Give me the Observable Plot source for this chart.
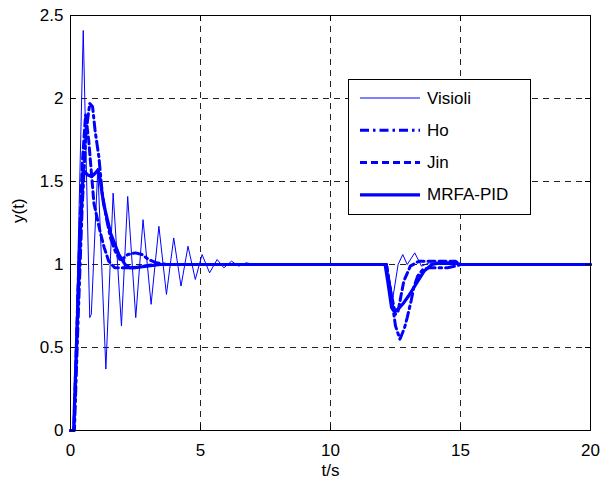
<!DOCTYPE html>
<html>
<head>
<meta charset="utf-8">
<script src="https://cdn.jsdelivr.net/npm/d3@7"></script>
<script src="https://cdn.jsdelivr.net/npm/@observablehq/plot@0.6"></script>
<style>
  html, body { margin: 0; padding: 0; background: white; }
  #wrap { position: relative; width: 601px; height: 491px; font-family: "Liberation Sans", Arial, sans-serif; }
  #legend { position: absolute; left: 348px; top: 79px; }
</style>
</head>
<body>
<div id="wrap"></div>
<script>
// ---- data ----
const seriesNames = ["Visioli", "Ho", "Jin", "MRFA-PID"];

const visioliT = [0, 0.13, 0.49, 0.74, 0.8, 1.05, 1.36, 1.64, 1.96, 2.2, 2.51, 2.79, 3.1, 3.4, 3.69, 3.97, 4.25, 4.52, 4.8, 5.06, 5.35, 5.64, 5.9, 6.19, 6.47, 6.75, 7.1, 12.15, 12.4, 12.6, 12.78, 12.95, 13.24, 13.5, 13.8, 14.2, 20];
const visioliY = [0, 0, 2.41, 0.68, 0.7, 1.58, 0.37, 1.43, 0.63, 1.41, 0.68, 1.27, 0.76, 1.23, 0.82, 1.16, 0.87, 1.11, 0.91, 1.06, 0.95, 1.03, 0.98, 1.02, 0.99, 1.01, 1.0, 1.0, 0.8, 1.0, 1.06, 1.0, 1.07, 0.99, 1.01, 1.0, 1.0];

const hoT = [0, 0.15, 0.3, 0.45, 0.6, 0.74, 0.85, 0.95, 1.09, 1.22, 1.38, 1.54, 1.72, 1.9, 2.05, 2.2, 2.5, 2.75, 3.0, 3.3, 3.7, 12.15, 12.3, 12.5, 12.67, 12.85, 12.95, 13.1, 13.2, 13.35, 13.55, 13.8, 14.5, 14.8, 15.0, 20];
const hoY = [0, 0, 0.7, 1.35, 1.8, 1.97, 1.95, 1.8, 1.65, 1.43, 1.28, 1.16, 1.08, 1.03, 1.04, 1.06, 1.07, 1.06, 1.03, 1.01, 1.0, 1.0, 0.85, 0.63, 0.55, 0.62, 0.68, 0.78, 0.86, 0.93, 0.97, 0.98, 0.98, 0.99, 1.0, 1.0];

const jinT = [0, 0.13, 0.3, 0.45, 0.58, 0.7, 0.9, 1.15, 1.3, 1.47, 1.7, 2.5, 2.8, 3.2, 12.15, 12.3, 12.5, 12.6, 12.82, 13.07, 13.4, 14.8, 15.0, 20];
const jinY = [0, 0, 0.9, 1.6, 1.9, 1.75, 1.37, 1.19, 1.1, 1.02, 0.98, 0.98, 0.99, 1.0, 1.0, 0.85, 0.7, 0.72, 0.9, 0.99, 1.02, 1.02, 1.0, 1.0];

const mrfaT = [0, 0.12, 0.25, 0.38, 0.49, 0.65, 0.81, 0.95, 1.06, 1.15, 1.28, 1.54, 1.86, 2.1, 2.3, 2.7, 3.45, 12.1, 12.2, 12.35, 12.44, 12.6, 12.82, 13.0, 13.2, 13.4, 13.6, 13.9, 14.2, 14.8, 15.0, 20];
const mrfaY = [0, 0, 0.6, 1.2, 1.57, 1.54, 1.53, 1.55, 1.57, 1.5, 1.36, 1.19, 1.06, 1.0, 0.98, 0.985, 1.0, 1.0, 0.9, 0.74, 0.72, 0.73, 0.77, 0.81, 0.86, 0.91, 0.96, 1.0, 1.01, 1.01, 1.0, 1.0];

const xTicks = [0, 5, 10, 15, 20];
const yTicks = [0, 0.5, 1, 1.5, 2, 2.5];
const xLabel = "t/s";
const yLabel = "y(t)";

// ---- build table ----
function rows(name, T, Y) { return T.map((t, i) => ({series: name, t, y: Y[i]})); }
const data = [
  ...rows("Visioli", visioliT, visioliY),
  ...rows("Ho", hoT, hoY),
  ...rows("Jin", jinT, jinY),
  ...rows("MRFA-PID", mrfaT, mrfaY)
];

const styles = {
  "Visioli": {strokeWidth: 1, dash: null},
  "Ho": {strokeWidth: 3, dash: "9,4,2.5,4"},
  "Jin": {strokeWidth: 3, dash: "7,4"},
  "MRFA-PID": {strokeWidth: 3.2, dash: null}
};

const lineMarks = seriesNames.map(name => Plot.line(data.filter(d => d.series === name), {
  x: "t", y: "y", stroke: "#0000ff",
  strokeWidth: styles[name].strokeWidth,
  strokeDasharray: styles[name].dash,
  strokeLinejoin: "round"
}));

const gridStyle = {stroke: "#222", strokeOpacity: 1, strokeWidth: 1, strokeDasharray: "6,5"};

const chart = Plot.plot({
  width: 601, height: 491,
  marginLeft: 70, marginRight: 11, marginTop: 15, marginBottom: 61,
  x: {domain: [0, 20], label: null},
  y: {domain: [0, 2.5], label: null},
  style: {fontFamily: "'Liberation Sans', Arial, sans-serif", fontSize: "17px", color: "black", background: "white", overflow: "visible"},
  marks: [
    Plot.gridX(xTicks.slice(1, -1), gridStyle),
    Plot.gridY(yTicks.slice(1, -1), gridStyle),
    ...lineMarks,
    Plot.frame({stroke: "black", strokeWidth: 1}),
    Plot.axisX(xTicks, {anchor: "bottom", tickSize: 0, tickPadding: 13, fontSize: 17, tickFormat: d => String(d)}),
    Plot.axisY(yTicks, {anchor: "left", tickSize: 0, tickPadding: 7, fontSize: 17, tickFormat: d => String(d)}),
    Plot.tickX(xTicks, {x: d => d, frameAnchor: "bottom", insetTop: 409, stroke: "black"}),
    Plot.tickX(xTicks, {x: d => d, insetBottom: 409, stroke: "black"}),
    Plot.tickY(yTicks, {y: d => d, insetRight: 515, stroke: "black"}),
    Plot.tickY(yTicks, {y: d => d, insetLeft: 515, stroke: "black"}),
    Plot.text([xLabel], {text: d => d, frameAnchor: "bottom", dy: 45, fontSize: 17}),
    Plot.text([yLabel], {text: d => d, frameAnchor: "left", dx: -52, rotate: -90, fontSize: 17})
  ]
});

const wrap = document.getElementById("wrap");
wrap.appendChild(chart);

// ---- legend (HTML overlay) ----
const ns = "http://www.w3.org/2000/svg";
const lg = document.createElementNS(ns, "svg");
lg.setAttribute("id", "legend");
lg.setAttribute("width", 183);
lg.setAttribute("height", 136);
const box = document.createElementNS(ns, "rect");
box.setAttribute("x", 0.5); box.setAttribute("y", 0.5);
box.setAttribute("width", 182); box.setAttribute("height", 135);
box.setAttribute("fill", "white"); box.setAttribute("stroke", "black");
lg.appendChild(box);
seriesNames.forEach((name, i) => {
  const cy = 19 + i * 32.3;
  const ln = document.createElementNS(ns, "line");
  ln.setAttribute("x1", 12); ln.setAttribute("x2", 72);
  ln.setAttribute("y1", cy); ln.setAttribute("y2", cy);
  ln.setAttribute("stroke", "#0000ff");
  ln.setAttribute("stroke-width", styles[name].strokeWidth);
  if (styles[name].dash) ln.setAttribute("stroke-dasharray", styles[name].dash);
  lg.appendChild(ln);
  const tx = document.createElementNS(ns, "text");
  tx.setAttribute("x", 79); tx.setAttribute("y", cy);
  tx.setAttribute("dominant-baseline", "central");
  tx.setAttribute("font-family", "'Liberation Sans', Arial, sans-serif");
  tx.setAttribute("font-size", "17px");
  tx.textContent = name;
  lg.appendChild(tx);
});
wrap.appendChild(lg);
</script>
</body>
</html>
